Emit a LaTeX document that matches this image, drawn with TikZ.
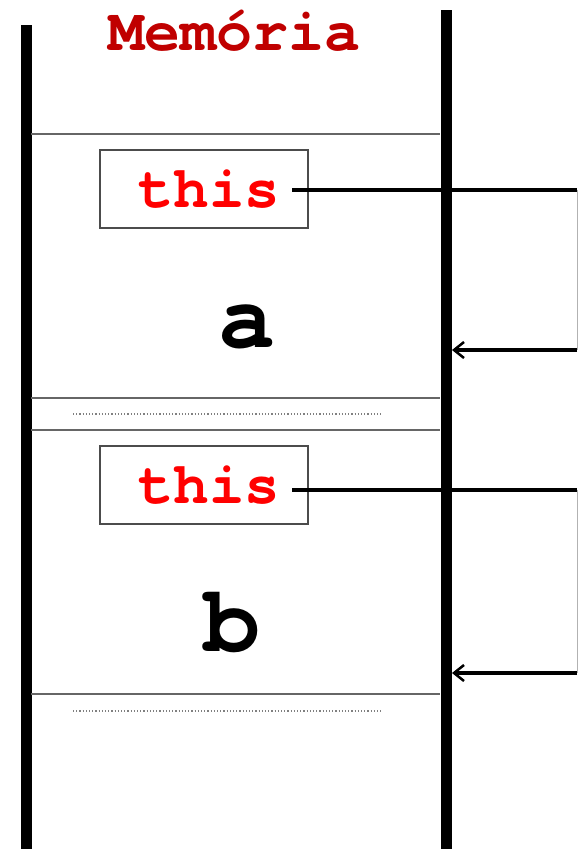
\documentclass[tikz,border=0pt]{standalone}
\usepackage{fontspec}
\setmonofont{texgyrecursor}[Extension=.otf,UprightFont=*-regular,BoldFont=*-bold]
\usetikzlibrary{arrows.meta}
\begin{document}
\begin{tikzpicture}[x=1pt,y=-1pt,
  wall/.style={line width=11pt},
  sep/.style={draw=gray!80!black,line width=1.5pt},
  dots/.style={draw=gray,line width=1.2pt,dotted},
  thisbox/.style={draw=black!70,line width=1.2pt,minimum width=208pt,minimum height=78pt},
  thistext/.style={font=\ttfamily\bfseries\fontsize{59}{59}\selectfont,text=red,inner sep=0pt,anchor=base},
  varname/.style={font=\ttfamily\bfseries\fontsize{95}{95}\selectfont,inner sep=0pt,anchor=base},
  ptr/.style={line width=3.2pt},
  ptrarrow/.style={line width=3.2pt,-{Straight Barb[length=10pt,width=16pt,line width=2.5pt]}}]
\useasboundingbox[fill=white] (0,0) rectangle (579,849);
% walls
\coordinate (lt) at (26,25); \coordinate (lb) at (26,849);
\coordinate (rt) at (446,10); \coordinate (rb) at (446,849);
\draw[wall] (lt) -- (lb);
\draw[wall] (rt) -- (rb);
% title
\node[font=\ttfamily\bfseries\fontsize{60}{60}\selectfont,text={rgb,255:red,192;green,0;blue,0},inner sep=0pt,anchor=base] (title) at (234,50) {Memória};
% separators
\draw[sep] (31,134) -- (440,134);
\draw[sep] (31,398) -- (440,398);
\draw[dots] (73,414) -- (383,414);
\draw[sep] (31,430) -- (440,430);
\draw[sep] (31,694) -- (440,694);
\draw[dots] (73,711) -- (383,711);
% frames
\node[thisbox] (box1) at (204,189) {};
\node[thisbox] (box2) at (204,485) {};
\node[thistext] (this1) at (209,207) {this};
\node[thistext] (this2) at (209,503) {this};
\node[varname] (a) at (247,347) {a};
\node[varname] (b) at (232,651) {b};
% pointers
\coordinate (s1) at (292,190); \coordinate (c1) at (577,190); \coordinate (d1) at (577,350); \coordinate (e1) at (452,350);
\coordinate (s2) at (292,490); \coordinate (c2) at (577,490); \coordinate (d2) at (577,673); \coordinate (e2) at (452,673);
\draw[ptr] (s1) -- (c1);
\draw[line width=1pt,gray!60] (c1) -- (d1);
\draw[ptrarrow] (d1) -- (e1);
\draw[ptr] (s2) -- (c2);
\draw[line width=1pt,gray!60] (c2) -- (d2);
\draw[ptrarrow] (d2) -- (e2);
\end{tikzpicture}
\end{document}
